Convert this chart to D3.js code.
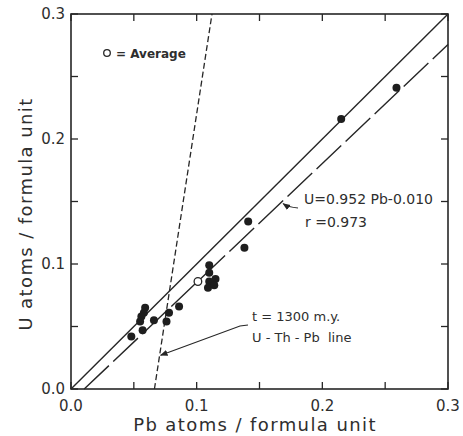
<!DOCTYPE html>
<html>
<head>
<meta charset="utf-8">
<script src="https://cdn.jsdelivr.net/npm/d3@7"></script>
<style>
  body { margin: 0; background: #fff; }
  text { font-family: "DejaVu Sans", sans-serif; fill: #2e2e2e; }
</style>
</head>
<body>
<div id="chart"></div>
<script>
// Data
var pbValues = [0.259, 0.215, 0.141, 0.138, 0.110, 0.110, 0.115, 0.110, 0.109, 0.114,
                0.086, 0.078, 0.076, 0.066, 0.059, 0.058, 0.056, 0.055, 0.057, 0.048];
var uValues  = [0.241, 0.216, 0.134, 0.113, 0.099, 0.093, 0.088, 0.086, 0.081, 0.083,
                0.066, 0.061, 0.054, 0.055, 0.065, 0.061, 0.058, 0.054, 0.047, 0.042];
var averagePoint = [0.101, 0.086];
var tickLabels = ["0.0", "0.1", "0.2", "0.3"];
var tickValues = [0, 0.1, 0.2, 0.3];
var minorTicks = [0.05, 0.15, 0.25];
// regression: U = 0.952 Pb - 0.010
var slope = 0.952, intercept = -0.010;
// 1300 m.y. U-Th-Pb line end points (Pb, U)
var ageLine = [[0.0664, 0], [0.1122, 0.3]];

var width = 463, height = 436;
var plotLeft = 71, plotRight = 448, plotTop = 14, plotBottom = 389;

var svg = d3.select("#chart").append("svg")
  .attr("width", width)
  .attr("height", height);

var xScale = d3.scaleLinear().domain([0, 0.3]).range([plotLeft, plotRight]);
var yScale = d3.scaleLinear().domain([0, 0.3]).range([plotBottom, plotTop]);

var ink = "#262626";

// Frame
svg.append("rect")
  .attr("x", plotLeft).attr("y", plotTop)
  .attr("width", plotRight - plotLeft).attr("height", plotBottom - plotTop)
  .attr("fill", "none").attr("stroke", ink).attr("stroke-width", 1.6);

// Ticks (inward, all four sides)
var allTicks = tickValues.concat(minorTicks);
var tickLen = 7;
allTicks.forEach(function(t) {
  var px = xScale(t), py = yScale(t);
  svg.append("line").attr("x1", px).attr("x2", px).attr("y1", plotBottom).attr("y2", plotBottom - tickLen)
    .attr("stroke", ink).attr("stroke-width", 1.3);
  svg.append("line").attr("x1", px).attr("x2", px).attr("y1", plotTop).attr("y2", plotTop + tickLen)
    .attr("stroke", ink).attr("stroke-width", 1.3);
  svg.append("line").attr("y1", py).attr("y2", py).attr("x1", plotLeft).attr("x2", plotLeft + tickLen)
    .attr("stroke", ink).attr("stroke-width", 1.3);
  svg.append("line").attr("y1", py).attr("y2", py).attr("x1", plotRight).attr("x2", plotRight - tickLen)
    .attr("stroke", ink).attr("stroke-width", 1.3);
});

// Tick labels
tickValues.forEach(function(t, i) {
  svg.append("text")
    .attr("x", xScale(t)).attr("y", plotBottom + 22)
    .attr("text-anchor", "middle")
    .attr("font-size", 15)
    .text(tickLabels[i]);
  svg.append("text")
    .attr("x", plotLeft - 6).attr("y", yScale(t) + 5)
    .attr("text-anchor", "end")
    .attr("font-size", 15)
    .text(tickLabels[i]);
});

// Axis titles
svg.append("text")
  .attr("x", 255).attr("y", 431)
  .attr("text-anchor", "middle")
  .attr("font-size", 18)
  .attr("letter-spacing", 1.4)
  .text("Pb atoms / formula unit");

svg.append("text")
  .attr("transform", "translate(32,214)rotate(-90)")
  .attr("text-anchor", "middle")
  .attr("font-size", 18)
  .attr("letter-spacing", 1.4)
  .text("U atoms / formula unit");

var line = d3.line()
  .x(function(d) { return xScale(d[0]); })
  .y(function(d) { return yScale(d[1]); });

// 1:1 line
svg.append("path")
  .attr("d", line([[0, 0], [0.3, 0.3]]))
  .attr("fill", "none").attr("stroke", ink).attr("stroke-width", 1.4);

// regression line
var x0 = -intercept / slope;
svg.append("path")
  .attr("d", line([[x0, 0], [0.3, slope * 0.3 + intercept]]))
  .attr("fill", "none").attr("stroke", ink).attr("stroke-width", 1.4)
  .attr("stroke-dasharray", "34,6");

// age line
svg.append("path")
  .attr("d", line(ageLine))
  .attr("fill", "none").attr("stroke", ink).attr("stroke-width", 1.3)
  .attr("stroke-dasharray", "6,3");

// Points
var pts = pbValues.map(function(d, i) { return [d, uValues[i]]; });
svg.selectAll("circle.pt").data(pts).enter()
  .append("circle")
  .attr("class", "pt")
  .attr("cx", function(d) { return xScale(d[0]); })
  .attr("cy", function(d) { return yScale(d[1]); })
  .attr("r", 4)
  .attr("fill", "#1e1e1e");

svg.append("circle")
  .attr("cx", xScale(averagePoint[0]))
  .attr("cy", yScale(averagePoint[1]))
  .attr("r", 3.8)
  .attr("fill", "#fff")
  .attr("stroke", ink)
  .attr("stroke-width", 1.3);

// Arrow heads
svg.append("defs").append("marker")
  .attr("id", "arrow")
  .attr("viewBox", "0 0 10 10")
  .attr("refX", 9).attr("refY", 5)
  .attr("markerWidth", 7).attr("markerHeight", 7)
  .attr("orient", "auto")
  .append("path")
  .attr("d", "M0,1 L10,5 L0,9 z")
  .attr("fill", ink);

// Annotations
svg.append("circle")
  .attr("cx", 107).attr("cy", 53).attr("r", 3.3)
  .attr("fill", "none").attr("stroke", ink).attr("stroke-width", 1.3);
svg.append("text")
  .attr("x", 116).attr("y", 58)
  .attr("font-size", 12).attr("font-weight", "bold")
  .text("= Average");

svg.append("text")
  .attr("x", 304).attr("y", 204)
  .attr("font-size", 14)
  .text("U=0.952 Pb-0.010");
svg.append("text")
  .attr("x", 305).attr("y", 227)
  .attr("font-size", 14)
  .text("r =0.973");

// curved arrow to the regression line
var regX = 0.168;
svg.append("path")
  .attr("d", "M298,208 Q288,207 " + (xScale(regX) + 1) + "," + (yScale(slope * regX + intercept) + 2))
  .attr("fill", "none").attr("stroke", ink).attr("stroke-width", 1.1)
  .attr("marker-end", "url(#arrow)");

svg.append("text")
  .attr("x", 252).attr("y", 321)
  .attr("font-size", 13)
  .text("t = 1300 m.y.");
svg.append("text")
  .attr("x", 252).attr("y", 342)
  .attr("font-size", 13)
  .attr("xml:space", "preserve")
  .text("U - Th - Pb  line");

// arrow to the age line
var ageU = 0.027;
var ageX = ageLine[0][0] + (ageLine[1][0] - ageLine[0][0]) * ageU / 0.3;
svg.append("path")
  .attr("d", "M248,325 L240,326 L" + (xScale(ageX) + 1) + "," + yScale(ageU))
  .attr("fill", "none").attr("stroke", ink).attr("stroke-width", 1.1)
  .attr("marker-end", "url(#arrow)");
</script>
</body>
</html>
